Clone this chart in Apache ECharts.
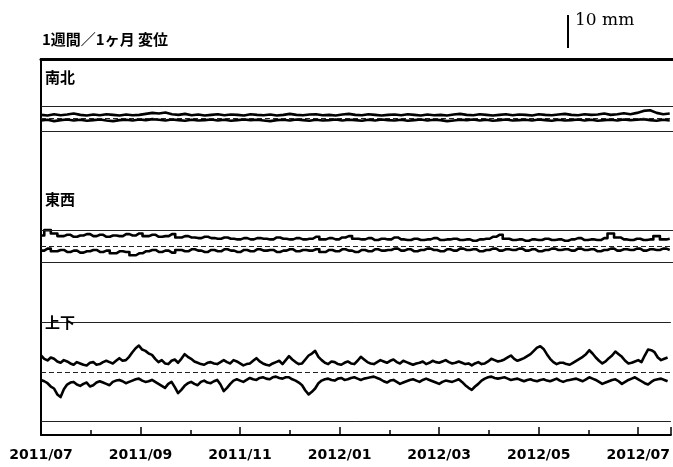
<!DOCTYPE html>
<html>
<head>
<meta charset="utf-8">
<script src="https://cdn.jsdelivr.net/npm/echarts@6/dist/echarts.min.js"></script>
<style>html,body{margin:0;padding:0;background:#fff;}#c{width:673px;height:467px;}</style>
</head>
<body>
<div id="c"></div>
<script>
// ---- data (mm, from 2011/07/01) ----
const stepDays = 4;      // 南北, 東西 sampling (days)
const stepDaysFine = 2;  // 上下 sampling (days)
const tickLabels = ['2011/07','2011/09','2011/11','2012/01','2012/03','2012/05','2012/07'];
const panelNames = ['南北','東西','上下'];
const refLevels = [3.8, 4.8, 15];
const titleText = '1週間／1ヶ月 変位';
const scaleText = '10 mm';
const scaleValue = 10;

const nsUpper = [
 1.1,0.9,1.3,1.0,1.2,1.5,1.1,0.9,1.2,1.0,
 1.3,1.1,0.9,1.2,1.0,1.1,1.4,1.7,1.5,1.8,
 1.3,1.1,1.4,1.0,1.2,0.9,1.1,1.3,1.0,1.2,
 1.1,0.9,1.3,1.1,1.0,1.2,0.9,1.1,1.4,1.1,
 1.0,1.2,1.3,1.0,1.1,0.9,1.2,1.4,1.1,1.0,
 1.3,1.1,0.9,1.1,1.2,1.0,1.3,1.1,0.9,1.2,
 1.0,1.1,0.9,1.2,1.4,1.1,1.0,1.3,1.1,0.9,
 1.1,1.3,1.0,1.2,1.1,0.9,1.3,1.1,1.0,1.2,
 1.4,1.1,1.0,1.3,1.1,1.2,1.5,1.1,1.3,1.6,
 1.3,1.7,2.3,2.5,1.7,1.3,1.5
];
const nsLower = [
 -0.6,-0.4,-0.8,-0.5,-0.3,-0.6,-0.4,-0.7,-0.5,-0.3,
 -0.6,-0.8,-0.5,-0.4,-0.6,-0.3,-0.5,-0.2,-0.4,-0.6,
 -0.3,-0.5,-0.7,-0.4,-0.6,-0.5,-0.3,-0.6,-0.4,-0.7,
 -0.5,-0.3,-0.5,-0.4,-0.6,-0.8,-0.5,-0.4,-0.6,-0.3,
 -0.5,-0.7,-0.4,-0.6,-0.5,-0.3,-0.6,-0.4,-0.5,-0.7,
 -0.4,-0.6,-0.3,-0.5,-0.6,-0.4,-0.7,-0.5,-0.3,-0.6,
 -0.4,-0.5,-0.8,-0.6,-0.4,-0.5,-0.3,-0.6,-0.4,-0.7,
 -0.5,-0.3,-0.6,-0.5,-0.4,-0.6,-0.3,-0.5,-0.7,-0.4,
 -0.6,-0.5,-0.3,-0.6,-0.4,-0.7,-0.5,-0.4,-0.6,-0.3,
 -0.5,-0.4,-0.2,-0.5,-0.7,-0.4,-0.6
];
const ewUpper = [
 3.2,4.8,3.8,3.0,3.4,2.8,3.2,3.6,3.0,3.4,
 2.8,3.2,3.0,3.6,3.2,3.8,3.0,3.4,2.8,3.0,
 3.6,2.6,3.0,2.6,2.4,2.8,2.4,2.2,2.6,2.2,
 2.0,2.4,2.0,2.4,2.2,2.0,2.6,2.2,2.0,2.4,
 2.0,2.2,2.8,2.0,2.4,2.0,2.6,3.0,2.2,2.0,
 2.4,1.8,2.2,2.0,2.6,2.0,1.8,2.2,1.8,2.0,
 2.4,1.8,2.0,2.2,1.8,2.0,1.6,2.0,2.2,2.8,
 3.4,2.2,1.8,2.0,1.6,2.0,1.8,2.2,1.8,2.0,
 1.6,2.0,2.4,1.8,2.0,1.8,2.4,3.8,2.6,2.0,
 1.8,2.2,1.8,2.0,3.0,2.0,2.2
];
const ewLower = [
 -1.4,-0.8,-1.6,-1.2,-1.8,-1.4,-2.0,-1.6,-1.2,-1.8,
 -1.4,-2.2,-1.6,-1.8,-2.8,-2.2,-1.6,-1.2,-1.8,-1.4,
 -2.0,-1.2,-1.6,-1.0,-1.4,-1.8,-1.2,-1.6,-1.0,-1.4,
 -1.8,-1.2,-1.6,-1.0,-1.4,-1.2,-1.8,-1.4,-1.0,-1.6,
 -1.2,-1.4,-1.0,-1.8,-1.2,-1.6,-1.0,-1.4,-1.8,-1.2,
 -1.6,-1.0,-1.4,-1.2,-0.8,-1.4,-1.0,-1.6,-1.2,-0.8,
 -1.2,-1.6,-1.0,-1.4,-0.8,-1.2,-1.0,-1.6,-1.2,-0.8,
 -1.4,-1.0,-1.2,-0.8,-1.4,-1.0,-1.6,-1.2,-0.8,-1.2,
 -1.0,-1.4,-0.8,-1.2,-1.0,-1.6,-1.2,-0.8,-1.4,-1.0,
 -1.2,-0.8,-1.4,-1.0,-1.2,-0.8,-1.2
];
const udUpper = [
 5.0,4.0,3.5,4.4,4.0,3.2,2.8,3.6,3.2,2.6,2.2,3.0,2.6,2.2,2.0,2.8,3.0,2.2,2.4,3.0,
 3.4,3.0,2.6,3.4,4.2,3.4,3.6,4.6,6.0,7.2,8.0,6.8,6.4,5.6,5.2,4.0,3.0,3.6,2.6,2.4,
 3.4,3.8,2.8,4.0,5.4,4.6,4.0,3.2,2.8,2.4,2.2,2.8,3.0,2.6,2.4,3.0,3.6,3.0,2.6,3.6,
 3.2,2.6,2.0,2.4,2.6,3.4,4.2,3.2,2.6,2.2,2.0,2.6,3.0,3.4,2.4,3.6,4.8,3.8,3.0,2.4,
 2.6,3.8,5.0,5.6,6.4,4.6,3.6,2.8,2.4,3.2,3.0,2.4,2.2,2.8,3.2,2.6,2.4,3.4,4.6,3.8,
 3.0,2.6,2.4,3.0,3.6,3.2,2.8,3.4,3.8,3.0,2.6,3.4,3.0,2.6,2.2,2.6,2.8,3.2,2.4,2.8,
 3.4,3.0,2.8,3.2,3.6,3.0,2.6,2.8,3.2,2.8,2.4,2.6,2.0,2.6,3.0,2.4,2.6,3.2,4.0,3.6,
 3.2,3.4,3.8,4.4,5.0,4.0,3.4,3.8,4.2,4.8,5.4,6.4,7.4,7.8,7.0,5.4,4.0,3.0,2.4,2.8,
 2.8,2.4,2.2,2.8,3.4,4.0,4.6,5.4,6.6,5.6,4.4,3.4,2.6,3.2,4.2,5.0,6.2,5.4,4.6,3.4,
 2.6,2.8,3.2,3.6,3.0,5.0,6.8,6.6,6.0,4.4,3.6,4.0,4.4
];
const udLower = [
 -2.4,-2.8,-3.4,-4.4,-5.0,-6.8,-7.6,-5.2,-3.8,-3.2,-3.0,-3.8,-4.2,-3.6,-3.2,-4.4,-4.0,-3.2,-2.8,-3.2,
 -3.6,-4.0,-3.0,-2.6,-2.4,-2.8,-3.4,-3.0,-2.6,-2.2,-2.0,-2.6,-3.0,-2.8,-2.4,-3.0,-3.6,-4.2,-4.8,-3.6,
 -3.0,-4.6,-6.4,-5.4,-4.2,-3.4,-3.0,-3.6,-4.0,-3.0,-2.6,-3.2,-3.4,-2.8,-2.4,-3.8,-5.8,-4.8,-3.6,-2.6,
 -2.2,-2.6,-3.0,-2.4,-1.8,-2.2,-2.4,-1.8,-1.6,-2.0,-2.2,-1.6,-1.4,-1.8,-2.0,-1.6,-1.6,-2.2,-2.6,-3.2,
 -4.0,-5.6,-6.8,-6.0,-5.0,-3.4,-2.6,-2.2,-2.0,-2.4,-2.6,-2.0,-1.8,-2.4,-2.2,-1.8,-1.6,-2.0,-2.4,-2.0,
 -1.8,-1.6,-1.4,-1.8,-2.2,-2.8,-3.2,-2.6,-2.4,-3.0,-3.6,-3.2,-2.8,-2.4,-2.2,-2.6,-3.0,-2.4,-2.0,-2.4,
 -2.8,-3.2,-3.6,-3.0,-2.6,-2.8,-3.0,-2.6,-2.2,-3.0,-4.0,-4.8,-5.4,-4.4,-3.6,-2.6,-2.0,-1.6,-1.4,-1.8,
 -2.0,-1.8,-1.6,-2.0,-2.4,-2.2,-2.0,-2.4,-2.8,-2.4,-2.2,-2.6,-2.8,-2.4,-2.2,-2.6,-2.8,-2.4,-2.0,-2.6,
 -3.0,-2.6,-2.4,-2.2,-2.0,-2.4,-2.8,-2.2,-1.6,-2.0,-2.4,-3.0,-3.6,-3.2,-2.8,-2.4,-2.2,-2.8,-3.6,-3.0,
 -2.4,-2.0,-1.6,-2.2,-2.8,-3.4,-3.8,-3.0,-2.4,-2.2,-2.0,-2.4,-2.8
];

// ---- layout ----
const panels = [
  {top: 59, height: 121, min: -18.64, max: 18.03, upper: nsUpper, lower: nsLower, step: stepDays, stepStyle: false},
  {top: 180, height: 120, min: -16.36, max: 20.0, upper: ewUpper, lower: ewLower, step: stepDays, stepStyle: 'middle'},
  {top: 300, height: 135, min: -19.09, max: 21.82, upper: udUpper, lower: udLower, step: stepDaysFine, stepStyle: false}
];
const GL = 41, GW = 633, XMAX = 386, TICK = 61;
const toPts = (arr, s) => arr.map((v, i) => [i * s, v]);

const grids = [], xAxes = [], yAxes = [], series = [];
panels.forEach((p, k) => {
  grids.push({left: GL, top: p.top, width: GW, height: p.height});
  const isBottom = k === panels.length - 1;
  const isTop = k === 0;
  xAxes.push({
    gridIndex: k, type: 'value', min: 0, max: XMAX, interval: TICK,
    position: isTop ? 'top' : 'bottom',
    axisLine: {show: isTop || isBottom, onZero: false, lineStyle: {color: '#000', width: isTop ? 3 : 2}},
    axisTick: {show: isBottom, inside: true, length: 8, lineStyle: {color: '#000', width: 1.5}},
    minorTick: {show: isBottom, splitNumber: 2, length: 5, lineStyle: {color: '#000', width: 1.5}},
    axisLabel: {
      show: isBottom, margin: 13, color: '#000', fontFamily: 'DejaVu Sans', fontWeight: 'bold', fontSize: 14,
      showMaxLabel: false,
      formatter: v => { const q = v / TICK; return Number.isInteger(q) && tickLabels[q] ? tickLabels[q] : ''; }
    },
    splitLine: {show: false}
  });
  yAxes.push({
    gridIndex: k, type: 'value', min: p.min, max: p.max,
    axisLine: {show: true, lineStyle: {color: '#000', width: 2}},
    axisTick: {show: false}, axisLabel: {show: false}, splitLine: {show: false}
  });
  const lineStyle = {color: '#000', width: 2.6, join: 'round'};
  series.push({
    type: 'line', xAxisIndex: k, yAxisIndex: k, data: toPts(p.upper, p.step),
    symbol: 'none', step: p.stepStyle, lineStyle, z: 3,
    markLine: {
      silent: true, symbol: ['none', 'none'], label: {show: false},
      data: [
        {yAxis: refLevels[k], lineStyle: {color: '#222', width: 1, type: 'solid'}},
        {yAxis: -refLevels[k], lineStyle: {color: '#222', width: 1, type: 'solid'}},
        {yAxis: 0, lineStyle: {color: '#222', width: 1, type: [5, 3]}}
      ]
    }
  });
  series.push({
    type: 'line', xAxisIndex: k, yAxisIndex: k, data: toPts(p.lower, p.step),
    symbol: 'none', step: p.stepStyle, lineStyle, z: 3
  });
});

const chart = echarts.init(document.getElementById('c'), null, {renderer: 'canvas'});
const labelTops = [70, 192, 315];
const textGraphics = () => [
  {type: 'text', left: 42, top: 32, style: {text: titleText, font: 'bold 15px "Noto Sans CJK JP"', fill: '#000'}},
  {type: 'text', left: 575, top: 12, style: {text: scaleText, font: '17px "DejaVu Serif"', fill: '#000'}},
  ...panelNames.map((n, k) => ({type: 'text', left: 45, top: labelTops[k], z: 10,
    style: {text: n, font: 'bold 15px "Noto Sans CJK JP"', fill: '#000'}}))
];
chart.setOption({
  animation: false,
  backgroundColor: '#fff',
  grid: grids, xAxis: xAxes, yAxis: yAxes, series,
  graphic: textGraphics()
});
// scale bar length taken from the y scale of the first panel
const y0 = chart.convertToPixel({yAxisIndex: 0}, 0);
const y10 = chart.convertToPixel({yAxisIndex: 0}, scaleValue);
const len = Math.abs(y0 - y10);
chart.setOption({
  graphic: [
    ...textGraphics(),
    {type: 'line', shape: {x1: 568, y1: 15, x2: 568, y2: 15 + len}, style: {stroke: '#000', lineWidth: 2}}
  ]
}, {replaceMerge: ['graphic']});
</script>
</body>
</html>
